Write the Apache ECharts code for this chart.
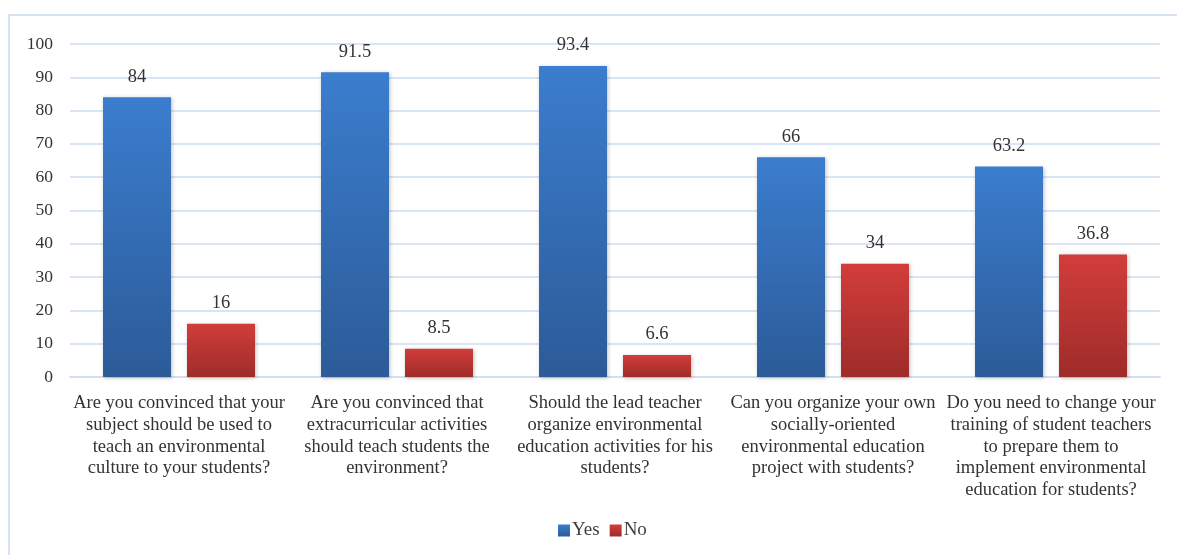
<!DOCTYPE html>
<html lang="en">
<head>
    <meta charset="UTF-8">
    <title>Environmental education survey</title>
    <style>
        html,body{margin:0;padding:0;background:#fff;}
        #mychart{width:1177px;height:555px;}
    </style>
</head>
<body>
    <div id="mychart"></div>
    <script src="https://cdn.jsdelivr.net/npm/echarts@6/dist/echarts.min.js"></script>
    <script>
        var questions=[
            'Are you convinced that your\nsubject should be used to\nteach an environmental\nculture to your students?',
            'Are you convinced that\nextracurricular activities\nshould teach students the\nenvironment?',
            'Should the lead teacher\norganize environmental\neducation activities for his\nstudents?',
            'Can you organize your own\nsocially-oriented\nenvironmental education\nproject with students?',
            'Do you need to change your\ntraining of student teachers\nto prepare them to\nimplement environmental\neducation for students?'
        ]
        var yesValues=[84,91.5,93.4,66,63.2]
        var noValues=[16,8.5,6.6,34,36.8]
        var yTicks=[0,10,20,30,40,50,60,70,80,90,100]

        var font='"Liberation Serif","Times New Roman",serif'
        function grad(top,bottom){
            return new echarts.graphic.LinearGradient(0,0,0,1,[
                {offset:0,color:top},
                {offset:1,color:bottom}
            ])
        }
        var myChart=echarts.init(document.getElementById('mychart'))
        var option={
            animation:false,
            textStyle:{fontFamily:font},
            graphic:[{
                type:'rect',
                shape:{x:9,y:15,width:1180,height:560},
                style:{fill:'none',stroke:'#d7e2f2',lineWidth:2},
                silent:true
            }],
            legend:{
                bottom:10,
                left:553,
                itemWidth:12,
                itemHeight:12,
                itemGap:10,
                icon:'rect',
                textStyle:{fontFamily:font,fontSize:19,color:'#404040',padding:[0,0,0,-3]},
                data:['Yes','No']
            },
            grid:{left:70,right:17,top:44,bottom:178},
            xAxis:{
                type:'category',
                data:questions,
                axisLine:{lineStyle:{color:'#d3dff0',width:2}},
                axisTick:{show:false},
                axisLabel:{
                    interval:0,
                    margin:15.5,
                    fontFamily:font,
                    fontSize:18.5,
                    lineHeight:21.7,
                    color:'#333',
                    align:'center'
                }
            },
            yAxis:{
                type:'value',
                min:yTicks[0],
                max:yTicks[yTicks.length-1],
                interval:10,
                axisLine:{show:false},
                axisTick:{show:false},
                axisLabel:{fontFamily:font,fontSize:17.5,color:'#333',margin:17},
                splitLine:{lineStyle:{color:'#d9e4f5',width:2}}
            },
            series:[
                {
                    name:'Yes',
                    type:'bar',
                    data:yesValues,
                    barWidth:68,
                    barGap:'23.5%',
                    itemStyle:{
                        color:grad('#3b7dce','#2c5b98'),
                        shadowColor:'rgba(0,0,0,0.25)',
                        shadowBlur:4,
                        shadowOffsetX:1,
                        shadowOffsetY:1
                    },
                    label:{show:true,position:'top',distance:11,fontFamily:font,fontSize:18.5,color:'#333'}
                },
                {
                    name:'No',
                    type:'bar',
                    data:noValues,
                    barWidth:68,
                    itemStyle:{
                        color:grad('#d23d3a','#9e2c2a'),
                        shadowColor:'rgba(0,0,0,0.25)',
                        shadowBlur:4,
                        shadowOffsetX:1,
                        shadowOffsetY:1
                    },
                    label:{show:true,position:'top',distance:11,fontFamily:font,fontSize:18.5,color:'#333'}
                }
            ]
        }
        myChart.setOption(option)
    </script>
</body>
</html>
